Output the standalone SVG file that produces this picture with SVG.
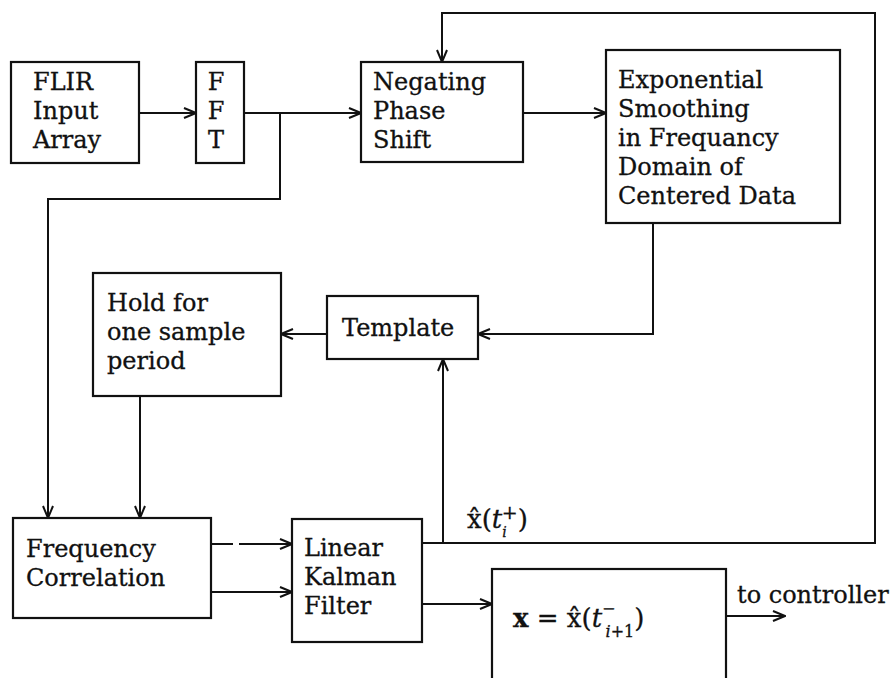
<svg xmlns="http://www.w3.org/2000/svg" width="894" height="678" viewBox="0 0 894 678">
<defs>
<marker id="arr" markerWidth="14" markerHeight="12" refX="13" refY="6" orient="auto" markerUnits="userSpaceOnUse">
<path d="M1,1 L13,6 L1,11" fill="none" stroke="#111" stroke-width="2"/>
</marker>
<style>
.box{fill:#fff;stroke:#111;stroke-width:2.2}
.ln{fill:none;stroke:#111;stroke-width:2}
text{font-family:"DejaVu Serif","Liberation Serif",serif;font-size:24px;fill:#111;stroke:#111;stroke-width:0.3}
text.math{font-size:26px}
</style>
</defs>
<rect width="894" height="678" fill="#fff"/>
<g id="connectors">
<path class="ln" d="M139,113 H196" marker-end="url(#arr)"/>
<path class="ln" d="M244,113 H361" marker-end="url(#arr)"/>
<path class="ln" d="M280,113 V199 H48 V518" marker-end="url(#arr)"/>
<path class="ln" d="M523,113 H606" marker-end="url(#arr)"/>
<path class="ln" d="M653,223 V334 H478" marker-end="url(#arr)"/>
<path class="ln" d="M327,334 H281" marker-end="url(#arr)"/>
<path class="ln" d="M140,396 V518" marker-end="url(#arr)"/>
<path class="ln" d="M211,544 H233"/>
<path class="ln" d="M239,544 H292" marker-end="url(#arr)"/>
<path class="ln" d="M211,592 H292" marker-end="url(#arr)"/>
<path class="ln" d="M422,543 H875 V13 H442 V62" marker-end="url(#arr)"/>
<path class="ln" d="M443,543 V359" marker-end="url(#arr)"/>
<path class="ln" d="M422,604 H492" marker-end="url(#arr)"/>
<path class="ln" d="M726,616 H785" marker-end="url(#arr)"/>
<text class="math" x="467" y="528">x̂(<tspan font-style="italic">t</tspan><tspan font-size="14" font-style="italic" dy="9">i</tspan><tspan font-size="19" dx="-5" dy="-18">+</tspan><tspan dy="9">)</tspan></text>
<text x="737" y="603">to controller</text>
</g>
<g id="flir">
<rect class="box" x="11" y="62" width="128" height="101"/>
<text x="33" y="90">FLIR</text>
<text x="33" y="119">Input</text>
<text x="33" y="148">Array</text>
</g>
<g id="fft">
<rect class="box" x="196" y="62" width="48" height="101"/>
<text x="216" y="90" text-anchor="middle">F</text>
<text x="216" y="119" text-anchor="middle">F</text>
<text x="216" y="148" text-anchor="middle">T</text>
</g>
<g id="negating">
<rect class="box" x="361" y="62" width="162" height="100"/>
<text x="373" y="90">Negating</text>
<text x="373" y="119">Phase</text>
<text x="373" y="148">Shift</text>
</g>
<g id="smoothing">
<rect class="box" x="606" y="50" width="234" height="173"/>
<text x="618" y="88">Exponential</text>
<text x="618" y="117">Smoothing</text>
<text x="618" y="146">in Frequancy</text>
<text x="618" y="175">Domain of</text>
<text x="618" y="204">Centered Data</text>
</g>
<g id="template">
<rect class="box" x="327" y="296" width="151" height="63"/>
<text x="342" y="336">Template</text>
</g>
<g id="hold">
<rect class="box" x="93" y="273" width="188" height="123"/>
<text x="107" y="311">Hold for</text>
<text x="107" y="340">one sample</text>
<text x="107" y="369">period</text>
</g>
<g id="correlation">
<rect class="box" x="13" y="518" width="198" height="100"/>
<text x="26" y="557">Frequency</text>
<text x="26" y="586">Correlation</text>
</g>
<g id="kalman">
<rect class="box" x="292" y="519" width="130" height="123"/>
<text x="304" y="556">Linear</text>
<text x="304" y="585">Kalman</text>
<text x="304" y="614">Filter</text>
</g>
<g id="output">
<rect class="box" x="492" y="569" width="234" height="120"/>
<text class="math" x="513" y="627"><tspan font-weight="bold">x</tspan> = x̂(<tspan font-style="italic">t</tspan><tspan font-size="16" dy="-13">−</tspan><tspan font-size="16" font-style="italic" dx="-10" dy="23">i</tspan><tspan font-size="16">+1</tspan><tspan dy="-10">)</tspan></text>
</g>
</svg>
